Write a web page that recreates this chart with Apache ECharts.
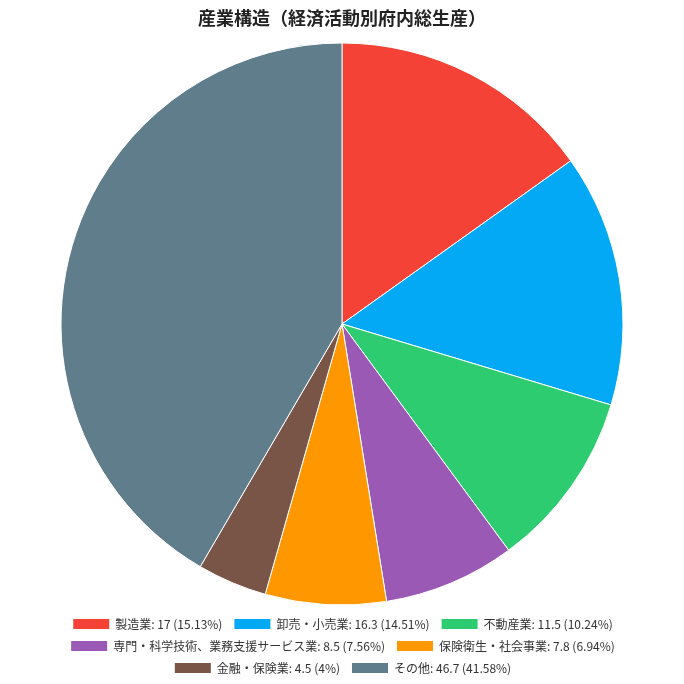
<!DOCTYPE html>
<html><head><meta charset="utf-8">
<script src="https://cdn.jsdelivr.net/npm/echarts@6/dist/echarts.min.js"></script>
<style>html,body{margin:0;padding:0;background:#fff}#c{width:684px;height:684px}</style>
</head><body><div id="c"></div>
<script>
const categories = ['製造業','卸売・小売業','不動産業','専門・科学技術、業務支援サービス業','保険衛生・社会事業','金融・保険業','その他'];
const values = [17, 16.3, 11.5, 8.5, 7.8, 4.5, 46.7];
const colors = ['#f44336','#03a9f4','#2ecc71','#9b59b6','#ff9800','#795548','#607d8b'];
const legendRows = [[0,1,2],[3,4],[5,6]];
const total = values.reduce((a,b)=>a+b,0);
const pct = {};
categories.forEach((c,i)=>{ pct[c] = Math.floor(values[i]/total*10000)/100; });
const valMap = {};
categories.forEach((c,i)=>{ valMap[c] = values[i]; });
const font = "'Noto Sans CJK JP', 'Noto Sans', sans-serif";
const rowTops = [612, 634, 656];
const legends = legendRows.map((row, r) => ({
  top: rowTops[r], left:'center', orient:'horizontal', icon:'rect', itemWidth:38, itemHeight:12, itemGap:10,
  textStyle:{fontFamily:font, fontSize:12, color:'#333'},
  data: row.map(i => categories[i]),
  formatter: n => n + ': ' + valMap[n] + ' (' + pct[n] + '%)'
}));
const chart = echarts.init(document.getElementById('c'));
chart.setOption({
  animation:false,
  color: colors,
  title:{text:'産業構造（経済活動別府内総生産）', left:'center', top:4,
    textStyle:{fontFamily:font, fontSize:18, fontWeight:'bold', color:'#222'}},
  legend: legends,
  series:[{type:'pie', center:[342,324], radius:[0,281], startAngle:90, clockwise:true,
    label:{show:false}, labelLine:{show:false},
    itemStyle:{borderColor:'#fff', borderWidth:1},
    data: categories.map((c,i)=>({name:c, value:values[i]}))}]
});
</script></body></html>
